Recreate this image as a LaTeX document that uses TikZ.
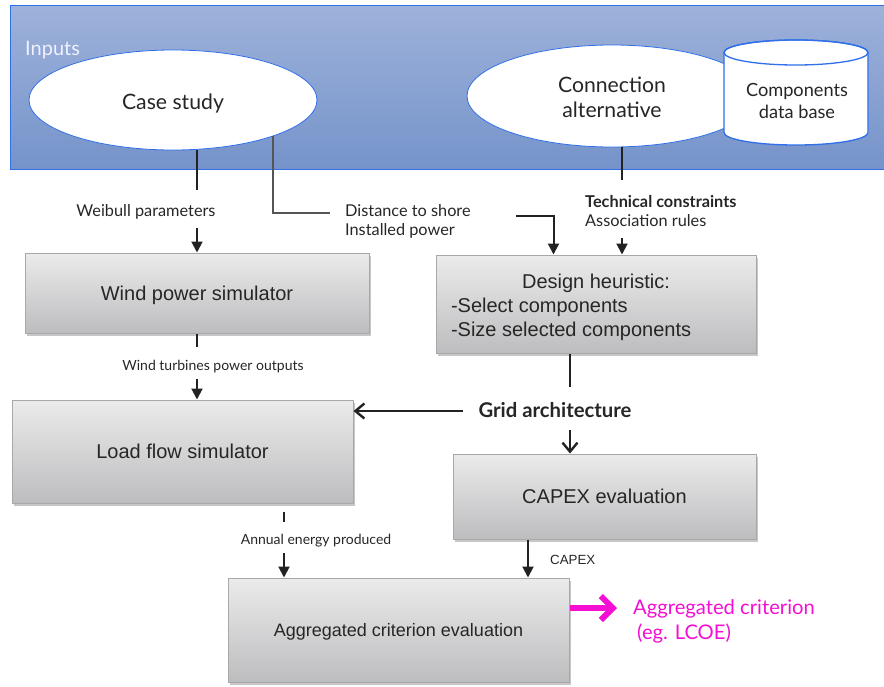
\documentclass[tikz,border=0pt]{standalone}
\usepackage{fontspec}
\setmainfont{Lato}
\newfontfamily\arialfont{Liberation Sans}
\usetikzlibrary{shapes.geometric,arrows.meta,shadows,calc}

\definecolor{inTop}{HTML}{9EB2DA}
\definecolor{inBot}{HTML}{7593CA}
\definecolor{inEdge}{HTML}{2F6FE8}
\definecolor{ink}{HTML}{222222}
\definecolor{greyink}{HTML}{555555}
\definecolor{boxEdge}{HTML}{A8A8A8}
\definecolor{boxTop}{HTML}{EBEBEC}
\definecolor{boxBot}{HTML}{BDBDBF}
\definecolor{mag}{HTML}{F40FD2}
\definecolor{txt}{HTML}{262626}

\newcommand{\fsz}[2]{\fontsize{#1}{#2}\selectfont}
% lower a box's ink without changing the space it takes
\newcommand{\lowered}[2]{\raisebox{-#1}[\height][\depth]{#2}}

\tikzset{
  procbox/.style={draw=boxEdge, line width=1pt, top color=boxTop, bottom color=boxBot,
    drop shadow={shadow xshift=1.5pt, shadow yshift=-3pt, fill=black, opacity=0.22},
    font=\arialfont\fsz{20}{24}, text=txt, inner sep=0pt},
  onelinebox/.style={procbox, text depth=0pt},
  oval/.style={ellipse, draw=inEdge, line width=0.8pt, fill=white, inner sep=0pt,
    font=\fsz{21.2}{25}, text=txt},
  link/.style={draw=ink, line width=2pt},
  greylink/.style={draw=greyink, line width=1.3pt},
  arr/.style={link, -{Triangle[width=11pt,length=11pt]}},
  openarr/.style={draw=ink, line width=2.4pt,
    -{Straight Barb[width=15pt,length=9pt,line width=2.4pt]}},
  magarr/.style={draw=mag, line width=6pt,
    -{Straight Barb[width=24pt,length=12pt,line width=6pt]}},
  lbl/.style={font=\fsz{16.3}{19}, text=txt, inner sep=0pt},
  smalllbl/.style={font=\fsz{14}{17}, text=txt, inner sep=0pt},
}

\begin{document}
\begin{tikzpicture}[x=1pt, y=-1pt]
  \useasboundingbox (0,0) rectangle (884,686);

  % inputs panel
  \shade[top color=inTop, bottom color=inBot] (10,5) rectangle (884,169);
  \draw[draw=inEdge, line width=1pt] (884,5) -- (10,5) -- (10,169) -- (884,169);
  \node[anchor=west, font=\fsz{20}{24}, text=white!94!blue, inner sep=0pt] (inputs) at (25,50) {Inputs};

  \node[oval, minimum width=288, minimum height=100, text depth=0pt] (case) at (173,100)
        {\lowered{1.5pt}{Case study}};
  \node[oval, minimum width=290, minimum height=102] (conn) at (612,96)
        {\lowered{1pt}{\parbox{140pt}{\centering Connection\\alternative}}};

  % components data base cylinder
  \path[draw=inEdge, line width=1.3pt, fill=white]
    (724,52.5) -- (724,132.5) arc[start angle=180, end angle=0, x radius=72, y radius=12.5]
    -- (868,52.5) arc[start angle=0, end angle=-180, x radius=72, y radius=12.5] -- cycle;
  \draw[draw=inEdge, line width=1.3pt] (796,52.5) ellipse[x radius=72, y radius=12.5];
  \node[font=\fsz{18.2}{22}, text=txt, align=center, inner sep=0pt] (cdb) at (797,101) {Components\\data base};

  % process boxes
  \node[onelinebox, minimum width=344, minimum height=80] (wind) at (197,293) {Wind power simulator};
  \node[onelinebox, minimum width=341, minimum height=103] (load) at (182.5,451.5) {Load flow simulator};
  \node[procbox, minimum width=320, minimum height=98] (design) at (596,304)
        {\lowered{3pt}{\parbox{290pt}{\centering Design heuristic:\par\raggedright
          -Select components\\-Size selected components}}};
  \node[onelinebox, minimum width=303, minimum height=85] (capex) at (604.5,496.5) {CAPEX evaluation};
  \node[onelinebox, minimum width=341, minimum height=104, font=\arialfont\fsz{18}{22}] (agg) at (398.5,630)
        {Aggregated criterion evaluation};

  % labels
  \node[lbl] (weib) at (146,212) {Weibull parameters};
  \node[lbl, anchor=west, align=left] (dist) at (345,221.5) {Distance to shore\\Installed power};
  \node[lbl, anchor=west, align=left] (tech) at (585,211) {\textbf{Technical constraints}\\Association rules};
  \node[smalllbl] (wtpo) at (213,367) {Wind turbines power outputs};
  \node[font=\bfseries\fsz{20.3}{24}, text=txt, inner sep=0pt] (grid) at (555,410.5) {Grid architecture};
  \node[smalllbl] (aep) at (316,541) {Annual energy produced};
  \node[font=\arialfont\fsz{13.3}{16}, text=txt, inner sep=0pt, anchor=west] (cpx) at (550,560) {CAPEX};
  \node[font=\fsz{20.2}{25}, text=mag, inner sep=0pt, anchor=west, align=left] (crit) at (633,621.5)
        {Aggregated criterion\\\hspace{4pt}(eg. LCOE)};

  % case study -> wind power simulator
  \coordinate (wb1) at (197,190);
  \coordinate (wb2) at (197,228);
  \draw[link] (case.south -| wind.north) -- (wb1);
  \draw[arr] (wb2) -- (wind.north);

  % case study -> design heuristic
  \coordinate (ds1) at (330,213);
  \coordinate (ds2) at (516,216);
  \draw[greylink] (case.-20.1) |- (ds1);
  \draw[arr] (ds2) -| ($(design.north west)+(118,0)$);

  % connection alternative -> design heuristic
  \coordinate (tc1) at (622,180);
  \coordinate (tc2) at (622,238);
  \draw[link] (conn.south -| tc1) -- (tc1);
  \draw[arr] (tc2) -- (tc2 |- design.north);

  % wind power simulator -> load flow simulator
  \coordinate (wt1) at (197,347);
  \coordinate (wt2) at (197,379);
  \draw[link] (wind.south) -- (wt1);
  \draw[arr] (wt2) -- (wt2 |- load.north);

  % design heuristic -> grid architecture
  \coordinate (g0) at (570,387);
  \draw[link, line width=2.4pt] (design.south -| g0) -- (g0);
  \coordinate (ga) at (463,411);
  \draw[openarr] (ga) -- (ga -| load.east);
  \coordinate (gb) at (570,430);
  \draw[openarr] (gb) -- (gb |- capex.north);

  % load flow -> aggregated criterion
  \coordinate (ae2) at (284,522);
  \coordinate (ae3) at (284,553);
  \draw[link] ($(load.south -| ae2)+(0,8)$) -- (ae2);
  \draw[arr] (ae3) -- (ae3 |- agg.north);

  % capex -> aggregated criterion
  \coordinate (cx) at (528,560);
  \draw[arr] (capex.south -| cx) -- (agg.north -| cx);

  % output
  \coordinate (mg) at (617,608);
  \draw[magarr] (agg.east |- mg) -- (mg);
\end{tikzpicture}
\end{document}
